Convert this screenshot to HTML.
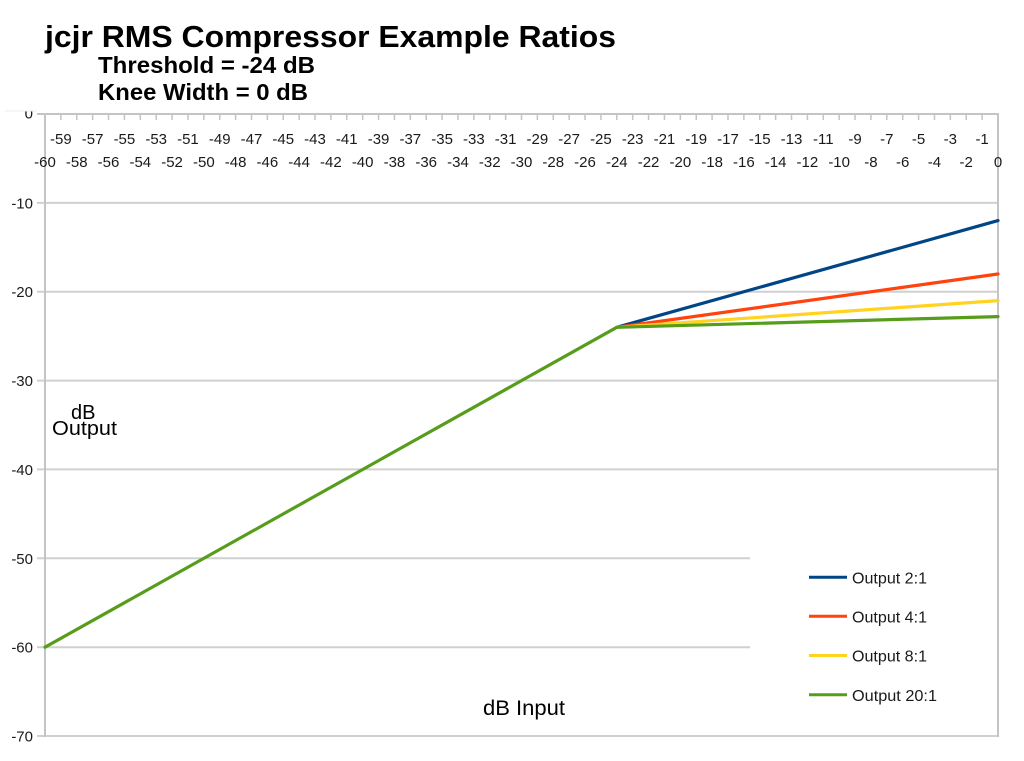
<!DOCTYPE html>
<html>
<head>
<meta charset="utf-8">
<style>
html,body{margin:0;padding:0;background:#fff;}
svg{display:block;}
text{font-family:"Liberation Sans",Arial,sans-serif;}
</style>
</head>
<body>
<svg width="1024" height="761" viewBox="0 0 1024 761" xmlns="http://www.w3.org/2000/svg">
<rect x="0" y="0" width="1024" height="761" fill="#fff"/>

<!-- Title -->
<text x="45" y="47" font-size="31" font-weight="bold" fill="#000" textLength="571" lengthAdjust="spacingAndGlyphs">jcjr RMS Compressor Example Ratios</text>
<text x="98" y="73" font-size="23" font-weight="bold" fill="#000" textLength="217" lengthAdjust="spacingAndGlyphs">Threshold = -24 dB</text>
<text x="98" y="100" font-size="23" font-weight="bold" fill="#000" textLength="210" lengthAdjust="spacingAndGlyphs">Knee Width = 0 dB</text>

<!-- Horizontal gridlines -->
<g stroke="#d0d0d0" stroke-width="2">
<line x1="37" y1="202.9" x2="998" y2="202.9"/>
<line x1="37" y1="291.7" x2="998" y2="291.7"/>
<line x1="37" y1="380.6" x2="998" y2="380.6"/>
<line x1="37" y1="469.4" x2="998" y2="469.4"/>
<line x1="37" y1="558.3" x2="998" y2="558.3"/>
<line x1="37" y1="647.2" x2="998" y2="647.2"/>
<line x1="37" y1="736" x2="998" y2="736"/>
</g>

<!-- Axes / borders -->
<g stroke="#c4c4c4" stroke-width="2">
<line x1="37" y1="114" x2="999" y2="114"/>
<line x1="45" y1="114" x2="45" y2="737"/>
<line x1="998" y1="114" x2="998" y2="737"/>
</g>

<!-- top ticks -->
<path stroke="#c4c4c4" stroke-width="1.5" fill="none" d="M45 114v6M60.88 114v6M76.77 114v6M92.65 114v6M108.53 114v6M124.42 114v6M140.3 114v6M156.18 114v6M172.07 114v6M187.95 114v6M203.83 114v6M219.72 114v6M235.6 114v6M251.48 114v6M267.37 114v6M283.25 114v6M299.13 114v6M315.02 114v6M330.9 114v6M346.78 114v6M362.67 114v6M378.55 114v6M394.43 114v6M410.32 114v6M426.2 114v6M442.08 114v6M457.97 114v6M473.85 114v6M489.73 114v6M505.62 114v6M521.5 114v6M537.38 114v6M553.27 114v6M569.15 114v6M585.03 114v6M600.92 114v6M616.8 114v6M632.68 114v6M648.57 114v6M664.45 114v6M680.33 114v6M696.22 114v6M712.1 114v6M727.98 114v6M743.87 114v6M759.75 114v6M775.63 114v6M791.52 114v6M807.4 114v6M823.28 114v6M839.17 114v6M855.05 114v6M870.93 114v6M886.82 114v6M902.7 114v6M918.58 114v6M934.47 114v6M950.35 114v6M966.23 114v6M982.12 114v6"/>

<!-- X labels odd row -->
<g font-size="15" fill="#1a1a1a" text-anchor="middle">
<text x="60.88" y="144">-59</text><text x="92.65" y="144">-57</text><text x="124.42" y="144">-55</text><text x="156.18" y="144">-53</text><text x="187.95" y="144">-51</text><text x="219.72" y="144">-49</text><text x="251.48" y="144">-47</text><text x="283.25" y="144">-45</text><text x="315.02" y="144">-43</text><text x="346.78" y="144">-41</text><text x="378.55" y="144">-39</text><text x="410.32" y="144">-37</text><text x="442.08" y="144">-35</text><text x="473.85" y="144">-33</text><text x="505.62" y="144">-31</text><text x="537.38" y="144">-29</text><text x="569.15" y="144">-27</text><text x="600.92" y="144">-25</text><text x="632.68" y="144">-23</text><text x="664.45" y="144">-21</text><text x="696.22" y="144">-19</text><text x="727.98" y="144">-17</text><text x="759.75" y="144">-15</text><text x="791.52" y="144">-13</text><text x="823.28" y="144">-11</text><text x="855.05" y="144">-9</text><text x="886.82" y="144">-7</text><text x="918.58" y="144">-5</text><text x="950.35" y="144">-3</text><text x="982.12" y="144">-1</text>
</g>
<!-- X labels even row -->
<g font-size="15" fill="#1a1a1a" text-anchor="middle">
<text x="45" y="167">-60</text><text x="76.77" y="167">-58</text><text x="108.53" y="167">-56</text><text x="140.3" y="167">-54</text><text x="172.07" y="167">-52</text><text x="203.83" y="167">-50</text><text x="235.6" y="167">-48</text><text x="267.37" y="167">-46</text><text x="299.13" y="167">-44</text><text x="330.9" y="167">-42</text><text x="362.67" y="167">-40</text><text x="394.43" y="167">-38</text><text x="426.2" y="167">-36</text><text x="457.97" y="167">-34</text><text x="489.73" y="167">-32</text><text x="521.5" y="167">-30</text><text x="553.27" y="167">-28</text><text x="585.03" y="167">-26</text><text x="616.8" y="167">-24</text><text x="648.57" y="167">-22</text><text x="680.33" y="167">-20</text><text x="712.1" y="167">-18</text><text x="743.87" y="167">-16</text><text x="775.63" y="167">-14</text><text x="807.4" y="167">-12</text><text x="839.17" y="167">-10</text><text x="870.93" y="167">-8</text><text x="902.7" y="167">-6</text><text x="934.47" y="167">-4</text><text x="966.23" y="167">-2</text><text x="998" y="167">0</text>
</g>

<!-- Y labels -->
<g font-size="15" fill="#1a1a1a" text-anchor="end">
<text x="33" y="118.5">0</text>
<text x="33" y="208.4">-10</text>
<text x="33" y="297.2">-20</text>
<text x="33" y="386.1">-30</text>
<text x="33" y="474.9">-40</text>
<text x="33" y="563.8">-50</text>
<text x="33" y="652.7">-60</text>
<text x="33" y="741.5">-70</text>
</g>
<!-- clip top of "0" label -->
<rect x="16" y="100" width="20" height="11" fill="#fff"/>
<!-- faint top edge line -->
<line x1="5" y1="111" x2="37" y2="111" stroke="#ececec" stroke-width="1"/>

<!-- Axis titles -->
<text x="71" y="419" font-size="20" fill="#000">dB</text>
<text x="52" y="435" font-size="20" fill="#000" textLength="65" lengthAdjust="spacingAndGlyphs">Output</text>
<text x="483" y="715" font-size="21" fill="#000" textLength="82" lengthAdjust="spacingAndGlyphs">dB Input</text>

<!-- Legend background -->
<rect x="750" y="548" width="247" height="187" fill="#fff"/>

<!-- Series -->
<g fill="none" stroke-width="3.2" stroke-linejoin="round" stroke-linecap="round">
<polyline stroke="#004586" points="616.8,327.3 998,220.6"/>
<polyline stroke="#ff420e" points="616.8,327.3 998,274"/>
<polyline stroke="#ffd320" points="616.8,327.3 998,300.6"/>
<polyline stroke="#579d1c" points="45,647.2 616.8,327.3 998,316.6"/>
</g>

<!-- Legend -->
<g stroke-width="3">
<line x1="809" y1="577.3" x2="847" y2="577.3" stroke="#004586"/>
<line x1="809" y1="616.3" x2="847" y2="616.3" stroke="#ff420e"/>
<line x1="809" y1="655.5" x2="847" y2="655.5" stroke="#ffd320"/>
<line x1="809" y1="694.7" x2="847" y2="694.7" stroke="#579d1c"/>
</g>
<g font-size="16" fill="#1a1a1a">
<text x="852" y="583.5" textLength="75" lengthAdjust="spacingAndGlyphs">Output 2:1</text>
<text x="852" y="622.5" textLength="75" lengthAdjust="spacingAndGlyphs">Output 4:1</text>
<text x="852" y="661.7" textLength="75" lengthAdjust="spacingAndGlyphs">Output 8:1</text>
<text x="852" y="700.9" textLength="85" lengthAdjust="spacingAndGlyphs">Output 20:1</text>
</g>
</svg>
</body>
</html>
